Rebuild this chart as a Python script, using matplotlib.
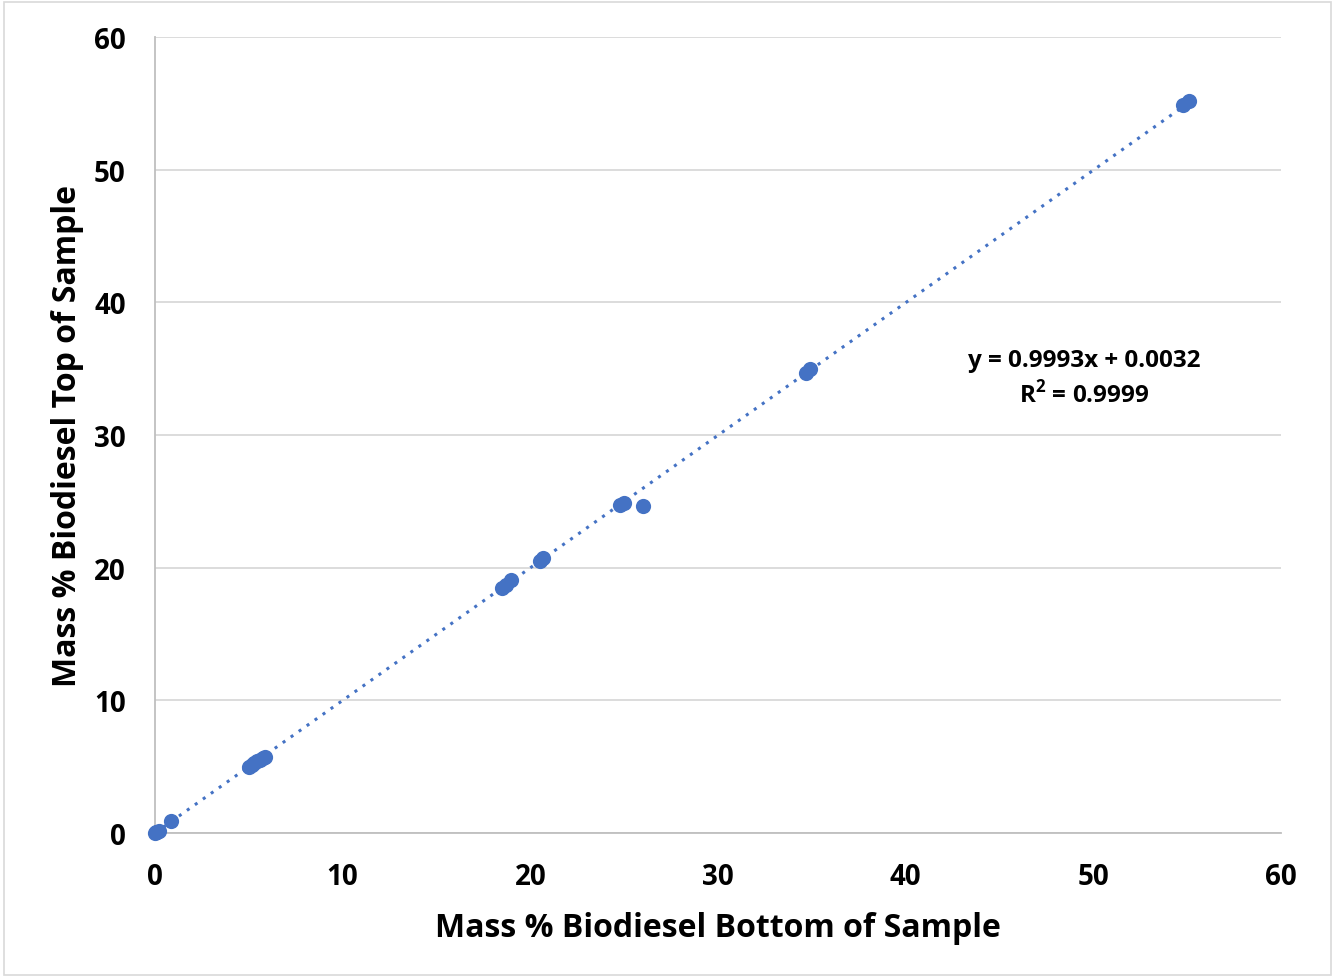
import matplotlib
matplotlib.use("Agg")
import matplotlib.pyplot as plt
import numpy as np

x_bottom = [0.0, 0.1, 0.05, 0.2, 0.85, 5.0, 5.15, 5.3, 5.45, 5.6, 5.75, 5.85,
            18.5, 18.7, 18.95, 20.5, 20.7, 24.8, 25.0, 26.0, 34.7, 34.9, 54.8, 55.1]
y_top = [0.0, 0.05, 0.1, 0.15, 0.9, 5.0, 5.15, 5.3, 5.4, 5.5, 5.65, 5.75,
         18.5, 18.7, 19.05, 20.5, 20.7, 24.75, 24.9, 24.65, 34.65, 34.95, 54.9, 55.2]
slope, intercept = 0.9993, 0.0032
eq_text = "y = 0.9993x + 0.0032\nR$^\\mathbf{2}$ = 0.9999"
xticks = [0, 10, 20, 30, 40, 50, 60]
yticks = [0, 10, 20, 30, 40, 50, 60]

plt.rcParams['font.family'] = ['Open Sans', 'DejaVu Sans']
plt.rcParams['mathtext.fontset'] = 'custom'
plt.rcParams['mathtext.bf'] = 'Open Sans:bold'
plt.rcParams['mathtext.rm'] = 'Open Sans:bold'
blue = '#4472C4'

fig = plt.figure(figsize=(13.35, 9.79), dpi=100)
ax = fig.add_axes([0.1161, 0.1481, 0.8435, 0.8131])
ax.set_xlim(0, 60)
ax.set_ylim(0, 60)

ax.scatter(x_bottom, y_top, s=120, color=blue, zorder=3, clip_on=False, linewidths=0)
xl = np.array([0, max(x_bottom)])
ax.plot(xl, slope * xl + intercept, linestyle=(0, (1, 2.2)), color=blue, lw=2.2, zorder=2)

ax.set_xticks(xticks)
ax.set_yticks(yticks)
ax.grid(axis='y', color='#D9D9D9', lw=1.3)
ax.set_axisbelow(True)
for s in ['top', 'right']:
    ax.spines[s].set_visible(False)
for s in ['left', 'bottom']:
    ax.spines[s].set_color('#BFBFBF')
    ax.spines[s].set_linewidth(1.3)
ax.tick_params(length=0, labelsize=20)
for lab in ax.get_xticklabels() + ax.get_yticklabels():
    lab.set_fontweight('bold')
ax.tick_params(axis='x', pad=21)
ax.tick_params(axis='y', pad=21)

ax.set_xlabel("Mass % Biodiesel Bottom of Sample", fontsize=23, fontweight='bold', labelpad=14)
ax.set_ylabel("Mass % Biodiesel Top of Sample", fontsize=23, fontweight='bold', labelpad=7)

ax.text(49.5, 34.3, eq_text, ha='center', va='center', fontsize=17.5, fontweight='bold',
        linespacing=1.35)

fig.patches.append(plt.Rectangle((0.003, 0.003), 0.994, 0.994, transform=fig.transFigure,
                                 fill=False, edgecolor='#D9D9D9', lw=1.2))
fig.savefig("out.png", dpi=100)
